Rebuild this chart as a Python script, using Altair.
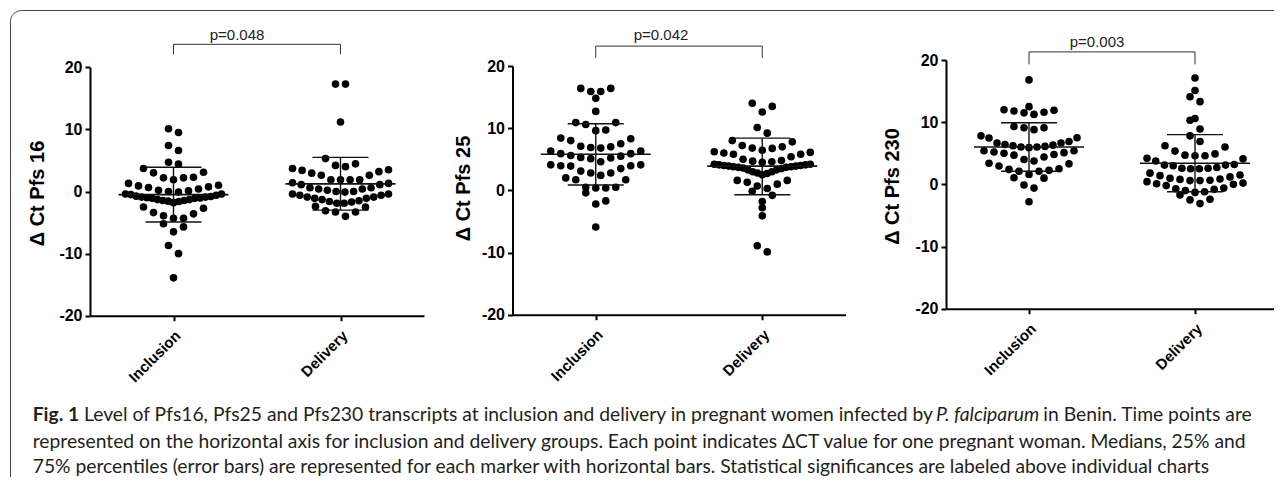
import altair as alt
import numpy as np
import pandas as pd

# ---------------- data ----------------
categories = ["Inclusion", "Delivery"]
y_titles = ["\u0394 Ct Pfs 16", "\u0394 Ct Pfs 25", "\u0394 Ct Pfs 230"]
p_labels = ["p=0.048", "p=0.042", "p=0.003"]
y_tick_values = [-20, -10, 0, 10, 20]

pfs16_inclusion = [10.1, 9.5, 7.4, 6.6, 4.7, 4.4, 3.7, 3.0, 2.3, 1.9, 2.2, 2.2, 3.1,
                   1.3, 0.9, 0.65, 0.2, 0.0, -0.1, 0.1, 0.4, 0.75, 1.0,
                   -0.4, -0.5, -0.8, -0.9, -1.05, -1.1, -1.3, -1.45, -1.55, -1.8,
                   -1.6, -1.45, -1.3, -1.1, -1.0, -0.9, -0.75, -0.6, -0.4,
                   -2.7, -3.6, -4.3, -5.2, -4.3, -3.9, -3.4, -2.5,
                   -6.5, -5.7, -8.7, -10.0, -13.9]
pfs16_delivery = [17.3, 17.3, 11.2, 5.3, 4.2, 3.7, 4.0, 4.45,
                  3.5, 3.2, 2.6, 1.9, 1.9, 1.9, 1.9, 2.6, 2.95, 3.4,
                  1.4, 1.1, 0.6, 0.4, 0.0, -0.1, 0.2, 0.0, 0.4, 0.6, 1.1, 1.3,
                  -0.4, -0.6, -0.9, -1.1, -1.5, -1.7, -1.9, -1.9, -1.6, -1.3,
                  -1.1, -0.9, -0.6, -0.4,
                  -2.5, -3.3, -4.0, -3.3, -3.1, -2.4]
pfs25_inclusion = [16.4, 15.9, 14.8, 15.9, 16.4, 12.7, 10.9, 10.6, 9.6, 9.7, 10.9,
                   8.4, 8.0, 7.1, 6.9, 6.8, 7.0, 7.5, 8.3,
                   6.3, 5.9, 5.5, 5.2, 4.6, 5.1, 5.3, 5.6, 5.9, 6.3,
                   4.1, 3.95, 3.9, 3.1, 2.8, 2.4, 2.8, 3.5, 3.95, 4.1,
                   2.0, 1.7, 0.5, 0.37, -0.4, 0.37, 0.5, 1.7,
                   -1.7, -2.2, -5.9]
pfs25_delivery = [14.0, 13.5, 12.6, 10.1, 9.2,
                  8.0, 7.8, 7.2, 6.8, 6.45, 6.75, 7.0,
                  6.1, 5.8, 5.4, 4.8, 4.6, 4.5, 4.7, 5.0, 5.8, 6.0, 6.2,
                  4.2, 4.1, 4.0, 3.9, 3.8, 3.7, 3.5, 3.3, 3.0, 2.7, 2.5,
                  2.8, 3.0, 3.3, 3.6, 3.7, 3.8, 3.9, 4.0, 4.1, 4.2,
                  1.6, 1.3, 0.7, 0.3, 1.0, 1.6,
                  -0.15, -0.8, -1.8, -2.8, -4.1, -8.9, -9.9]
pfs230_inclusion = [16.8, 12.5, 11.9, 11.25, 11.6, 11.5, 11.8, 12.0,
                    9.1, 9.3, 8.8, 9.1, 7.8, 7.5,
                    7.45, 6.65, 6.3, 6.1, 6.0, 5.9, 6.0, 6.2, 6.4, 6.65, 6.9,
                    5.4, 5.2, 5.0, 4.7, 4.0, 3.75, 4.4, 4.8, 5.1, 5.4,
                    3.4, 2.95, 2.4, 2.1, 1.6, 2.1, 2.25, 2.5, 3.3,
                    1.07, 1.0, -0.1, -0.6, -2.8]
pfs230_delivery = [17.1, 15.1, 14.1, 13.3, 10.6, 10.3, 8.9, 7.8, 6.9,
                   6.2, 6.0, 5.35, 4.7, 4.6, 4.6, 4.9,
                   4.2, 3.75, 3.1, 3.0, 2.6, 2.5, 2.5, 2.6, 2.7, 3.1, 3.2, 4.1,
                   1.8, 1.4, 0.97, 0.64, 0.6, 0.6, 0.8, 0.86, 1.2, 1.5,
                   0.43, 0.1, -0.2, -0.7, -1.3, -1.0, -1.2, -1.7, -0.8, -0.6, 0.0, 0.2,
                   -2.4, -3.1, -2.5]

# centre line and error bar ends, per marker (Pfs16, Pfs25, Pfs230)
center_inclusion = [-0.5, 5.8, 6.0]
center_delivery = [1.23, 3.9, 3.4]
upper_inclusion = [3.9, 10.7, 9.9]
lower_inclusion = [-4.9, 0.86, 2.1]
upper_delivery = [5.5, 8.4, 8.0]
lower_delivery = [-3.0, -0.7, -1.2]

caption_fig = "Fig. 1"
caption_l1a = "Level of Pfs16, Pfs25 and Pfs230 transcripts at inclusion and delivery in pregnant women infected by"
caption_l1b = "P. falciparum"
caption_l1c = "in Benin. Time points are"
caption_l2 = ("represented on the horizontal axis for inclusion and delivery groups. Each point indicates "
              "\u0394CT value for one pregnant woman. Medians, 25% and")
caption_l3 = ("75% percentiles (error bars) are represented for each marker with horizontal bars. "
              "Statistical significances are labeled above individual charts")

inclusion_series = [pfs16_inclusion, pfs25_inclusion, pfs230_inclusion]
delivery_series = [pfs16_delivery, pfs25_delivery, pfs230_delivery]

# ---------------- layout ----------------
W, H = 1266, 469
layout = [
    dict(xr=[82, 416], yr=[307.7, 59.3], bh=[2.1, 2.1], bb=[-0.25, -0.25],
         tx=-53, ty=185, brk=(23.7, 22.1), pt=24.4, pdx=-20),
    dict(xr=[504.5, 837.5], yr=[306.7, 58.0], bh=[2.2, 2.05], bb=[2.2, 0.2],
         tx=-49, ty=180, brk=(23.2, 21.3), pt=24.2, pdx=-18),
    dict(xr=[938, 1270], yr=[300.7, 52.0], bh=[2.15, 2.0], bb=[1.5, 0.5],
         tx=-54, ty=178, brk=(21.3, 19.3), pt=22.1, pdx=-15),
]
DOT_STEP = 10.0     # px between neighbouring dots in a row
ROW_MAX = 96.0      # max px width of a row (centre to centre)
MEAN_HALF = 55.0    # px half-width of centre line
CAP_HALF = 28.0     # px half-width of error caps
AXIS_FONT = "Liberation Sans"
CAP_FONT = "Lato"
CAP_COLOR = "#231f20"
CAP_SIZE = 19.3


def swarm_offsets(values, bin_h, bin_b):
    """Prism-like scatter layout: bin values in rows, spread each row."""
    vals = np.asarray(values, dtype=float)
    bins = np.floor((vals - bin_b) / bin_h).astype(int)
    off = np.zeros(len(vals))
    for k in np.unique(bins):
        idx = np.where(bins == k)[0]
        idx = idx[np.argsort(vals[idx], kind="stable")]
        n = len(idx)
        step = DOT_STEP if n < 2 else min(DOT_STEP, ROW_MAX / (n - 1))
        if n % 2 == 1:
            slots = [0.0]
            for j in range(1, n // 2 + 1):
                slots += [j, -j]
        else:
            slots = []
            for j in range(n // 2):
                slots += [j + 0.5, -(j + 0.5)]
        for i, s in zip(idx, slots):
            off[i] = s * step
    return off


def build_panel(k):
    L = layout[k]
    ppu = (L["xr"][1] - L["xr"][0]) / 2.0
    xsc = alt.Scale(domain=[-0.5, 1.5], range=L["xr"], nice=False, zero=False)
    ysc = alt.Scale(domain=[-20, 20], range=L["yr"], nice=False, zero=False)
    xaxis = alt.Axis(orient="bottom", offset=-(H - L["yr"][0]), values=[0, 1],
                     labelExpr="datum.value == 0 ? 'Inclusion' : 'Delivery'",
                     title=None, grid=False, labelAngle=315, labelAlign="right",
                     labelBaseline="middle", labelPadding=12, labelOffset=4,
                     labelFlush=False, labelFont=AXIS_FONT, labelFontWeight="bold",
                     labelFontSize=15, labelColor="#000", domainColor="#000",
                     domainWidth=2, tickColor="#000", tickWidth=2, tickSize=5)
    yaxis = alt.Axis(orient="left", offset=-L["xr"][0], values=y_tick_values,
                     labelExpr="'' + datum.value",
                     title=y_titles[k], grid=False, labelFont=AXIS_FONT,
                     labelFontWeight="bold", labelFontSize=16, labelColor="#000",
                     labelPadding=3, domainColor="#000", domainWidth=2,
                     tickColor="#000", tickWidth=2, tickSize=5,
                     titleFont=AXIS_FONT, titleFontWeight="bold", titleFontSize=20,
                     titleColor="#000", titleAngle=270, titleAlign="center",
                     titleBaseline="middle", titleX=L["tx"], titleY=L["ty"])

    rows = []
    for c, series in enumerate([inclusion_series[k], delivery_series[k]]):
        offs = swarm_offsets(series, L["bh"][c], L["bb"][c])
        for v, dx in zip(series, offs):
            rows.append({"x": c + dx / ppu, "y": v, "group": categories[c]})
    pts = pd.DataFrame(rows)

    segs = []
    stats = [(center_inclusion[k], lower_inclusion[k], upper_inclusion[k]),
             (center_delivery[k], lower_delivery[k], upper_delivery[k])]
    for c, (m, lo, hi) in enumerate(stats):
        mh, ch = MEAN_HALF / ppu, CAP_HALF / ppu
        segs.append({"x": c - mh, "x2": c + mh, "y": m, "y2": m, "w": 1.6})
        segs.append({"x": c, "x2": c, "y": lo, "y2": hi, "w": 1.4})
        segs.append({"x": c - ch, "x2": c + ch, "y": hi, "y2": hi, "w": 1.4})
        segs.append({"x": c - ch, "x2": c + ch, "y": lo, "y2": lo, "w": 1.4})
    segs = pd.DataFrame(segs)

    b_top, b_bot = L["brk"]
    brk = pd.DataFrame([
        {"x": 0, "x2": 1, "y": b_top, "y2": b_top},
        {"x": 0, "x2": 0, "y": b_bot, "y2": b_top},
        {"x": 1, "x2": 1, "y": b_bot, "y2": b_top},
    ])
    ptxt = pd.DataFrame({"x": [0.5 + L["pdx"] / ppu], "y": [L["pt"]], "t": [p_labels[k]]})

    X = alt.X("x:Q", scale=xsc, axis=xaxis)
    Y = alt.Y("y:Q", scale=ysc, axis=yaxis)

    points = alt.Chart(pts).mark_point(filled=True, shape="circle", size=58,
                                       color="#000", opacity=1).encode(x=X, y=Y)
    bars = alt.Chart(segs).mark_rule(color="#111").encode(
        x=X, x2="x2:Q", y=Y, y2="y2:Q",
        strokeWidth=alt.StrokeWidth("w:Q", scale=None))
    bracket = alt.Chart(brk).mark_rule(color="#333", strokeWidth=1).encode(
        x=X, x2="x2:Q", y=Y, y2="y2:Q")
    ptext = alt.Chart(ptxt).mark_text(font=AXIS_FONT, fontSize=15, color="#222",
                                      align="center", baseline="alphabetic").encode(
        x=X, y=Y, text="t:N")
    return alt.layer(points, bars, bracket, ptext)


one = pd.DataFrame({"a": [0]})


def text_layer(txt, x, y, size=CAP_SIZE, weight="normal", style="normal", align="left"):
    return alt.Chart(one).mark_text(text=txt, align=align, baseline="middle",
                                    font=CAP_FONT, fontSize=size, fontWeight=weight,
                                    fontStyle=style, color=CAP_COLOR).encode(
        x=alt.value(x), y=alt.value(y))


frame = alt.Chart(one).mark_rect(cornerRadius=11, fillOpacity=0, stroke="#444",
                                 strokeWidth=1).encode(
    x=alt.value(2.5), y=alt.value(2.5), x2=alt.value(1700), y2=alt.value(900))

caption = [
    text_layer(caption_fig, 24.7, 407, weight="bold"),
    text_layer(caption_l1a, 76, 407),
    text_layer(caption_l1b, 928, 407, style="italic"),
    text_layer(caption_l1c, 1243.7, 407, align="right"),
    text_layer(caption_l2, 24.7, 433.5),
    text_layer(caption_l3, 24.7, 459),
]

chart = alt.layer(
    frame, build_panel(0), build_panel(1), build_panel(2), *caption
).resolve_scale(x="independent", y="independent").properties(
    width=W, height=H, padding=0,
    autosize=alt.AutoSizeParams(type="none"),
    background="white",
).configure_view(strokeWidth=0)

chart.save("out.html", embed_options={"renderer": "svg", "actions": False})
